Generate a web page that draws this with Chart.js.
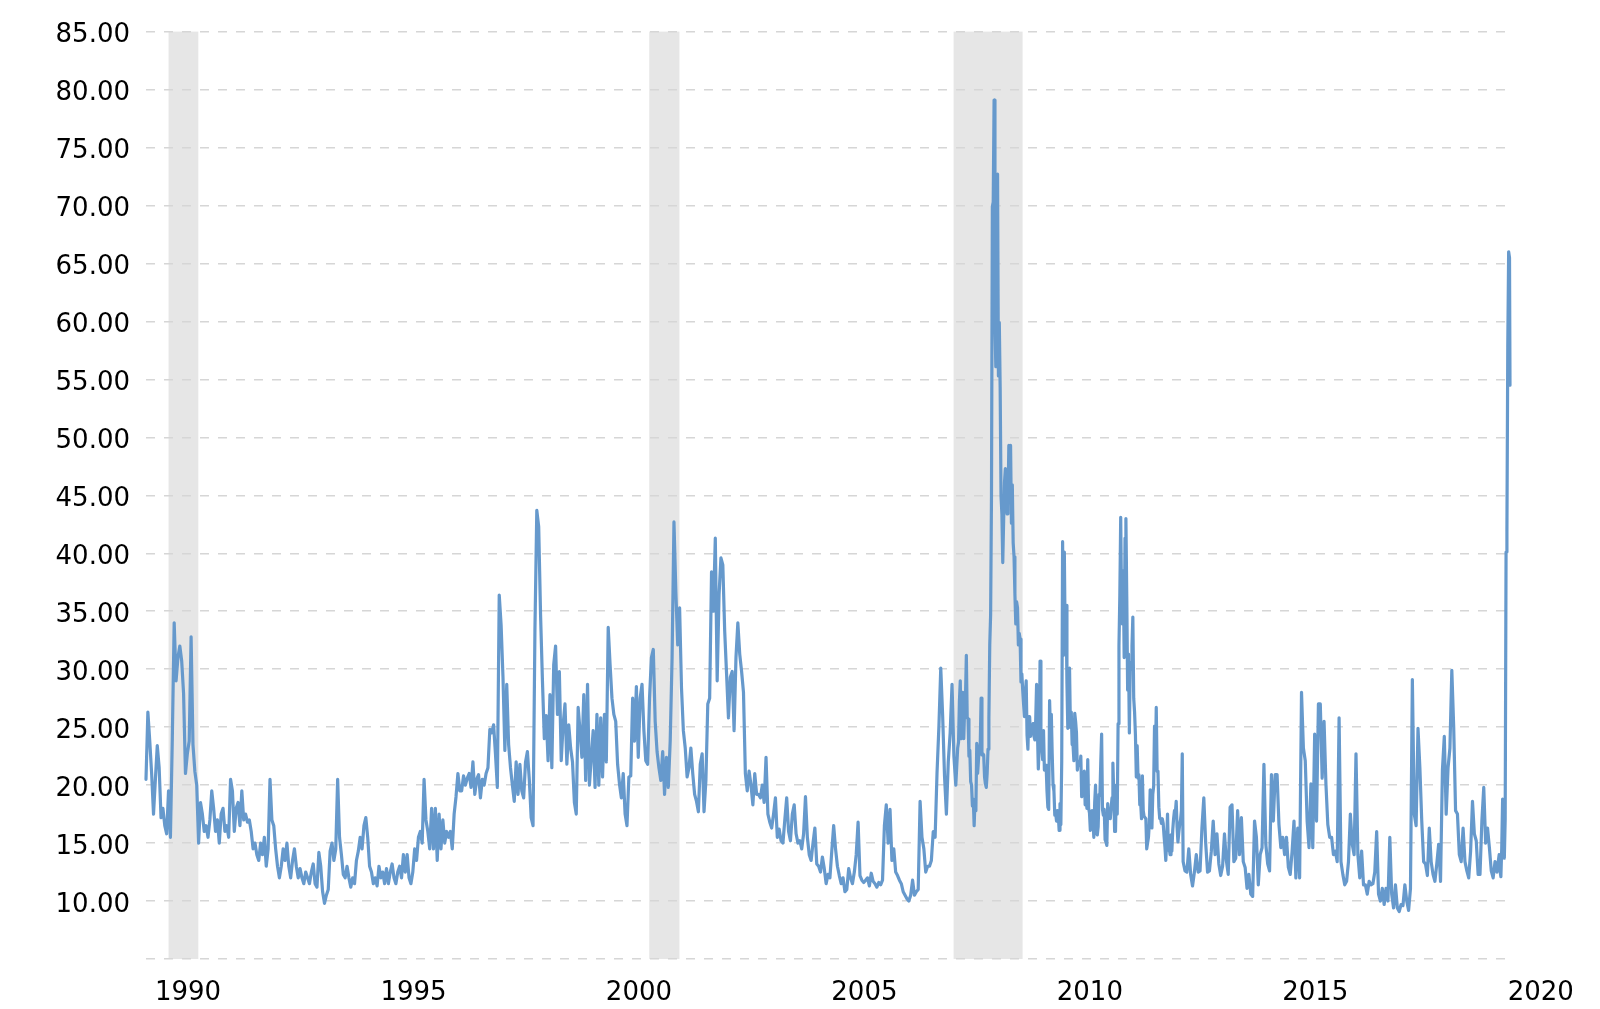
<!DOCTYPE html>
<html>
<head>
<meta charset="utf-8">
<title>VIX</title>
<script src="https://cdn.jsdelivr.net/npm/chart.js@4.4.1/dist/chart.umd.min.js"></script>
<style>
  html, body { margin: 0; padding: 0; background: #fff; }
  canvas { display: block; }
</style>
</head>
<body>
<canvas id="vixChart" width="1600" height="1009"></canvas>
<script>
// VIX readings: two a month where the line is calm,
// weekly for the 2008-2012 stretch where it swings the most
const vix1990 = [20.5, 26.3, 23.8, 21.0, 17.5, 20.5, 23.4, 21.5, 17.2, 18.0, 16.5, 15.8, 19.5, 15.5, 24.0, 34.0, 29.0, 31.0, 32.0, 30.7, 27.9, 21.0, 22.7, 23.8];
const vix1991 = [32.8, 23.5, 21.2, 20.0, 15.0, 18.5, 17.5, 16.0, 16.5, 15.5, 17.0, 19.5, 18.0, 16.0, 17.0, 15.0, 17.5, 18.0, 16.0, 16.5, 15.5, 20.5, 19.5, 16.0];
const vix1992 = [18.0, 18.5, 16.5, 19.5, 17.0, 17.5, 16.8, 17.0, 16.0, 14.5, 15.0, 14.0, 13.5, 15.0, 14.0, 15.5, 13.0, 14.5, 20.5, 17.0, 16.5, 14.5, 13.0, 12.0];
const vix1993 = [13.0, 14.5, 13.5, 15.0, 13.0, 12.0, 13.5, 14.5, 13.0, 12.0, 12.8, 12.0, 11.5, 12.5, 12.0, 11.5, 12.5, 13.2, 11.5, 11.2, 14.2, 13.0, 10.8, 9.8];
const vix1994 = [10.5, 11.0, 14.3, 15.0, 13.5, 14.5, 20.5, 15.5, 14.0, 12.3, 12.0, 13.0, 12.0, 11.2, 12.0, 11.5, 13.5, 14.3, 15.5, 14.5, 16.5, 17.2, 15.5, 13.0];
const vix1995 = [12.5, 11.5, 12.0, 11.3, 13.0, 12.0, 12.5, 11.5, 12.8, 11.5, 12.5, 13.2, 12.0, 11.5, 12.5, 13.0, 12.0, 14.0, 12.5, 14.0, 12.0, 11.5, 12.5, 14.5];
const vix1996 = [13.5, 15.5, 16.0, 15.0, 20.5, 17.0, 16.0, 14.5, 18.0, 14.5, 18.0, 13.5, 17.5, 14.5, 17.0, 15.0, 16.0, 15.5, 16.0, 14.5, 17.5, 19.0, 21.0, 19.5];
const vix1997 = [19.5, 20.8, 20.0, 20.6, 21.0, 19.8, 22.0, 19.2, 20.5, 20.9, 18.9, 20.5, 20.0, 21.0, 21.5, 24.8, 24.5, 25.2, 22.7, 19.8, 36.4, 33.8, 29.3, 23.0];
const vix1998 = [28.7, 23.5, 21.5, 20.0, 18.6, 22.0, 19.2, 21.8, 19.5, 18.9, 22.0, 22.9, 20.5, 17.2, 16.5, 33.3, 43.7, 42.3, 34.7, 29.0, 24.0, 26.0, 22.1, 27.8];
const vix1999 = [21.5, 30.4, 32.0, 26.1, 29.8, 22.1, 25.2, 27.0, 21.8, 25.2, 23.2, 22.0, 18.5, 17.5, 26.7, 24.7, 22.4, 27.8, 20.4, 28.7, 20.0, 22.4, 24.7, 19.8];
const vix2000 = [26.1, 20.0, 25.8, 20.7, 26.1, 22.0, 33.6, 30.4, 27.5, 26.1, 25.5, 21.8, 20.1, 18.9, 21.0, 17.5, 16.5, 20.7, 20.8, 27.5, 23.8, 28.5, 22.4, 27.5];
const vix2001 = [28.7, 24.7, 22.1, 21.8, 27.5, 31.0, 31.7, 25.5, 22.9, 21.5, 20.4, 22.9, 19.2, 22.4, 19.8, 23.8, 31.0, 42.7, 36.7, 32.1, 35.3, 28.4, 24.7, 23.2];
const vix2002 = [20.7, 21.5, 23.2, 21.0, 19.2, 18.6, 17.7, 21.8, 22.7, 17.7, 20.4, 27.0, 27.5, 38.4, 35.0, 41.3, 29.0, 36.4, 39.6, 39.0, 33.3, 29.6, 25.8, 29.3];
const vix2003 = [29.8, 24.7, 31.0, 34.0, 31.3, 29.8, 28.0, 21.0, 19.5, 21.2, 20.0, 18.3, 21.0, 19.2, 19.2, 18.9, 20.0, 18.5, 22.4, 17.5, 16.8, 16.3, 17.5, 18.9];
const vix2004 = [15.5, 16.2, 15.2, 15.0, 17.0, 18.9, 16.0, 15.2, 17.5, 18.3, 15.8, 15.0, 15.2, 14.5, 15.8, 19.0, 15.5, 14.0, 13.5, 15.0, 16.3, 13.2, 13.0, 12.5];
const vix2005 = [13.8, 12.8, 11.5, 12.3, 12.0, 14.3, 16.5, 14.5, 13.0, 12.2, 11.5, 12.0, 10.8, 11.0, 12.8, 12.0, 11.5, 12.5, 14.0, 16.8, 12.2, 11.8, 11.6, 11.8];
const vix2006 = [12.0, 11.3, 12.4, 11.7, 11.5, 11.2, 11.6, 11.4, 11.8, 16.5, 18.3, 15.0, 17.9, 13.5, 14.5, 12.5, 12.2, 11.8, 11.5, 10.8, 10.5, 10.2, 10.0, 10.5];
const vix2007 = [11.8, 10.5, 10.8, 11.0, 18.6, 15.5, 14.5, 12.5, 13.0, 13.0, 13.5, 16.0, 15.5, 21.0, 25.0, 30.1, 26.0, 20.8, 17.5, 22.0, 24.5, 28.7, 22.5, 20.0];
const vix2008 = [
  23.2, 23.7, 27.2, 29.0, 24.0, 28.0, 25.0, 24.0, 26.5, 27.5, 31.2, 25.8, 25.7,
  22.5, 23.0, 20.3, 20.0, 18.2, 18.8, 16.5, 18.7, 17.8, 23.6, 21.0, 22.2, 23.4,
  23.4, 27.5, 22.6, 22.7, 22.6, 20.7, 20.1, 19.8, 21.0, 23.1, 25.7, 32.1, 34.7,
  45.1, 69.9, 70.3, 79.1, 59.9, 56.1, 66.3, 72.7, 55.3, 59.9, 54.3, 44.9, 43.4
];
const vix2009 = [
  39.2, 42.8, 46.1, 47.3, 44.8, 43.4, 44.0, 49.3, 46.4, 49.3, 42.6, 45.9, 40.9,
  39.7, 36.5, 33.9, 35.8, 35.3, 32.1, 33.1, 32.6, 28.9, 29.6, 28.2, 27.0, 25.9,
  27.9, 29.0, 24.3, 23.1, 25.9, 25.9, 24.2, 25.0, 24.8, 25.3, 24.2, 23.9, 25.6,
  28.7, 24.6, 21.4, 23.3, 30.7, 24.2, 23.4, 22.2, 24.7, 21.3, 21.6, 21.7, 19.5
];
const vix2010 = [
  18.1, 17.9, 27.3, 24.6, 26.1, 22.7, 20.0, 19.5, 17.4, 17.6, 16.9, 17.8, 17.5,
  16.1, 18.4, 16.6, 22.1, 41.0, 31.2, 40.1, 32.1, 35.5, 28.8, 24.9, 28.5, 30.1,
  25.0, 26.3, 23.5, 23.5, 22.1, 26.2, 25.5, 24.5, 21.3, 22.0, 22.0, 21.7, 22.5,
  19.0, 19.1, 19.1, 21.2, 18.3, 20.6, 18.0, 22.2, 18.0, 17.6, 16.1, 16.5, 17.8
];
const vix2011 = [
  17.1, 15.5, 18.5, 20.0, 15.9, 15.7, 16.4, 19.2, 19.1, 21.9, 24.4, 17.9, 17.4,
  17.9, 15.3, 15.1, 14.8, 18.4, 17.1, 17.4, 17.1, 18.1, 18.9, 21.9, 19.3, 16.0,
  16.0, 20.0, 17.5, 25.3, 32.0, 36.4, 43.1, 35.6, 33.9, 38.5, 31.0, 41.3, 43.0,
  36.2, 28.2, 31.3, 24.5, 30.5, 30.0, 32.0, 34.5, 27.5, 26.3, 24.3, 20.7, 23.4
];
const vix2012 = [
  20.6, 20.9, 18.3, 18.5, 17.1, 20.8, 17.8, 17.3, 17.3, 17.1, 14.5, 15.0, 15.5,
  16.7, 19.6, 17.4, 16.3, 19.2, 19.9, 25.1, 21.8, 26.7, 21.2, 21.1, 18.1, 17.1,
  17.1, 16.7, 17.1, 16.7, 15.6, 14.7, 13.5, 15.2, 17.5, 14.4, 14.5, 14.0, 15.7,
  14.3, 16.1, 17.1, 17.8, 17.6, 18.6, 16.4, 15.1, 15.9, 16.6, 17.0, 17.8, 22.7
];
const vix2013 = [13.4, 12.6, 12.5, 14.5, 12.3, 11.3, 12.5, 14.0, 12.5, 12.6, 16.3, 18.9, 15.0, 12.5, 12.6, 14.3, 16.9, 14.0, 15.8, 13.2, 12.2, 13.0, 15.8, 13.5];
const vix2014 = [12.3, 18.1, 18.3, 13.4, 13.7, 17.8, 14.0, 17.2, 13.4, 12.9, 11.1, 12.3, 10.6, 10.4, 16.9, 15.5, 11.4, 14.0, 14.6, 21.8, 14.9, 13.2, 12.6, 20.9];
const vix2015 = [16.9, 20.9, 20.9, 16.6, 14.6, 15.5, 14.0, 15.5, 12.9, 12.3, 14.3, 16.9, 12.0, 16.3, 12.0, 28.0, 23.2, 22.1, 16.9, 14.6, 20.1, 14.6, 24.4, 16.9];
const vix2016 = [27.0, 27.0, 20.6, 25.5, 20.1, 16.6, 15.5, 15.5, 14.0, 14.3, 13.4, 25.8, 13.4, 12.3, 11.4, 11.7, 13.4, 17.5, 14.9, 14.0, 22.7, 14.0, 12.0, 14.3];
const vix2017 = [11.4, 11.4, 10.6, 11.7, 11.4, 11.5, 12.5, 16.0, 10.6, 10.0, 11.1, 9.7, 11.1, 10.0, 15.5, 10.6, 9.4, 11.4, 9.4, 9.1, 9.7, 9.6, 11.4, 10.0];
const vix2018 = [9.2, 11.1, 29.1, 17.5, 16.5, 24.9, 21.5, 16.9, 13.4, 13.2, 12.2, 16.3, 13.4, 12.3, 11.7, 13.2, 14.9, 11.7, 21.3, 24.2, 17.5, 21.5, 23.2, 29.9];
const vix2019 = [25.0, 17.8, 17.5, 14.0, 13.4, 16.3, 13.4, 12.6, 12.0, 14.3, 18.6, 15.8, 15.2, 12.3, 12.3, 16.9, 19.8, 15.0, 16.3, 14.6, 12.6, 12.0, 13.4, 12.5];

// 2020 weekly closes, by day of year
const days2020 = [3, 10, 17, 24, 31, 38, 45, 52, 59, 66, 73, 80, 87, 91];
const vix2020 = [14.0, 12.6, 12.1, 14.6, 18.8, 15.5, 13.7, 17.1, 40.1, 41.9, 57.8, 66.0, 65.5, 54.5];

// recessions (decimal years)
const recessionStarts = [1990.5, 2001.16, 2007.91];
const recessionEnds = [1991.16, 2001.83, 2009.44];

const tickYears = [1990, 1995, 2000, 2005, 2010, 2015, 2020];

const yearSeries = [
  [1990, vix1990], [1991, vix1991], [1992, vix1992], [1993, vix1993], [1994, vix1994],
  [1995, vix1995], [1996, vix1996], [1997, vix1997], [1998, vix1998], [1999, vix1999],
  [2000, vix2000], [2001, vix2001], [2002, vix2002], [2003, vix2003], [2004, vix2004],
  [2005, vix2005], [2006, vix2006], [2007, vix2007], [2008, vix2008], [2009, vix2009],
  [2010, vix2010], [2011, vix2011], [2012, vix2012], [2013, vix2013], [2014, vix2014],
  [2015, vix2015], [2016, vix2016], [2017, vix2017], [2018, vix2018], [2019, vix2019]
];

const points = [];
yearSeries.forEach(([year, values]) => {
  values.forEach((v, i) => points.push({ x: year + i / values.length, y: v }));
});
days2020.forEach((d, i) => points.push({ x: 2020 + d / 366, y: vix2020[i] }));

const lastX = points[points.length - 1].x;
const axisFont = { family: "'DejaVu Sans', Verdana, sans-serif", size: 26 };

// grey bands behind the grid
const recessionShade = {
  id: 'recessionShade',
  beforeDraw(chart) {
    const { ctx, chartArea, scales } = chart;
    ctx.save();
    ctx.fillStyle = '#ffffff';
    ctx.fillRect(0, 0, chart.width, chart.height);
    ctx.fillStyle = '#e6e6e6';
    recessionStarts.forEach((s, i) => {
      const x1 = scales.x.getPixelForValue(s);
      const x2 = scales.x.getPixelForValue(recessionEnds[i]);
      ctx.fillRect(x1, chartArea.top, x2 - x1, chartArea.bottom - chartArea.top);
    });
    ctx.restore();
  }
};

const ctx = document.getElementById('vixChart').getContext('2d');
new Chart(ctx, {
  type: 'line',
  data: {
    datasets: [{
      data: points,
      borderColor: '#6699cc',
      borderWidth: 3.2,
      borderJoinStyle: 'round',
      borderCapStyle: 'round',
      pointRadius: 0,
      tension: 0,
      fill: false,
      clip: false
    }]
  },
  options: {
    responsive: false,
    animation: false,
    devicePixelRatio: 1,
    layout: { padding: { top: 29, right: 90, bottom: 0, left: 0 } },
    plugins: {
      legend: { display: false },
      tooltip: { enabled: false }
    },
    scales: {
      x: {
        type: 'linear',
        min: 1990,
        max: lastX,
        grid: { display: false },
        border: { display: false },
        afterBuildTicks: (scale) => {
          scale.ticks = tickYears.map(v => ({ value: v }));
        },
        afterFit: (scale) => { scale.height = 50; },
        ticks: {
          autoSkip: false,
          maxRotation: 0,
          padding: 11,
          labelOffset: 42,
          color: '#000',
          font: axisFont,
          callback: (v) => String(v)
        }
      },
      y: {
        min: 5,
        max: 85,
        afterFit: (scale) => { scale.width = 146; },
        grid: { color: '#d6d6d6', lineWidth: 1.5, drawTicks: false },
        border: { display: false, dash: [9, 9] },
        ticks: {
          stepSize: 5,
          padding: 16,
          labelOffset: 4,
          color: '#000',
          font: axisFont,
          callback: (v) => (v < 10 ? '' : v.toFixed(2))
        }
      }
    }
  },
  plugins: [recessionShade]
});
</script>
</body>
</html>
